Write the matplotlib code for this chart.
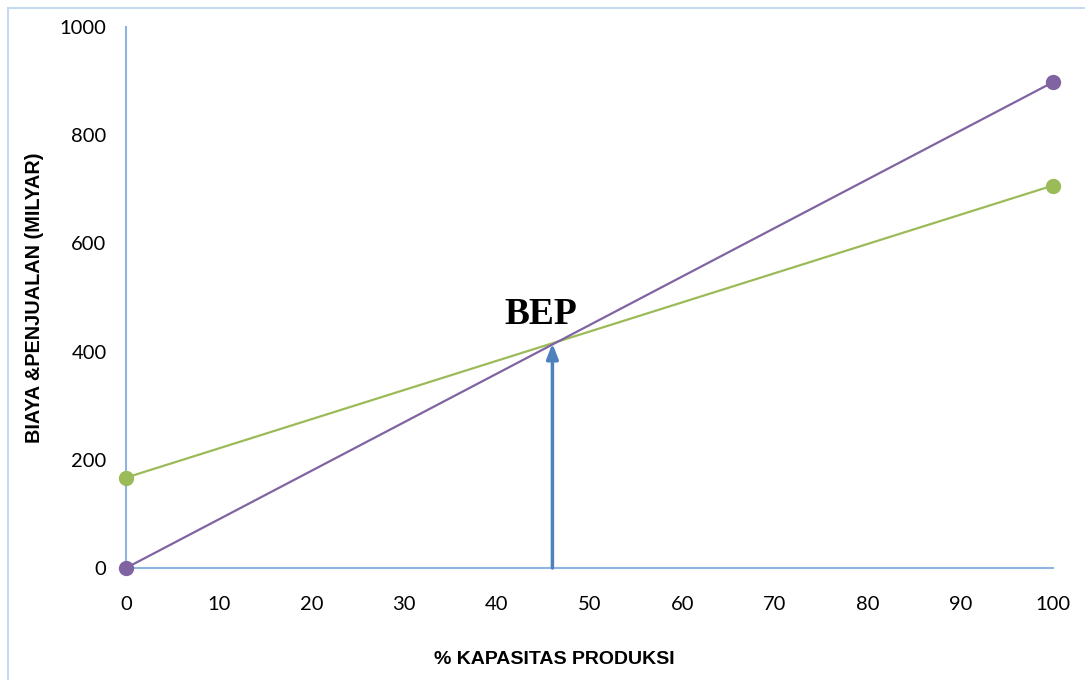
import matplotlib.pyplot as plt
from matplotlib.patches import Rectangle

# data
kapasitas = [0, 100]
penjualan = [0, 898]
biaya = [167, 707]
bep_x = 46
bep_y = 415

plt.rcParams['font.family'] = ['Lato', 'DejaVu Sans']

fig = plt.figure(figsize=(10.85, 6.8), dpi=100)
ax = fig.add_axes([126 / 1085, 112 / 680, 927 / 1085, 541 / 680])

# outer chart frame
fig.patches.append(Rectangle((8 / 1085, -0.01), 1.0, 1 - 8 / 680 + 0.01,
                             transform=fig.transFigure, fill=False,
                             edgecolor='#C6D9F1', linewidth=1.5))

ax.plot(kapasitas, biaya, color='#9BBB59', linewidth=1.6, marker='o',
        markersize=10, clip_on=False, zorder=3)
ax.plot(kapasitas, penjualan, color='#8064A2', linewidth=1.6, marker='o',
        markersize=10, clip_on=False, zorder=4)

# BEP arrow
ax.annotate('', xy=(bep_x, bep_y), xytext=(bep_x, 0),
            arrowprops=dict(arrowstyle='-|>,head_length=0.9,head_width=0.35',
                            color='#4F81BD', linewidth=2.5,
                            shrinkA=0, shrinkB=0), zorder=5)
ax.text(bep_x - 1.2, 437, 'BEP', family='Liberation Serif', fontweight='bold',
        fontsize=27, ha='center', va='bottom')

ax.set_xlim(0, 100)
ax.set_ylim(0, 1000)
ax.set_xticks(range(0, 101, 10))
ax.set_yticks(range(0, 1001, 200))
ax.tick_params(length=0, labelsize=14.5)
ax.tick_params(axis='x', pad=20)
ax.tick_params(axis='y', pad=14)
for s in ['top', 'right']:
    ax.spines[s].set_visible(False)
for s in ['left', 'bottom']:
    ax.spines[s].set_color('#8EB4E3')
    ax.spines[s].set_linewidth(1.5)

fig.text(35 / 1085, 1 - 298 / 680, 'BIAYA &PENJUALAN (MILYAR)',
         rotation=90, ha='center', va='center', fontweight='bold',
         fontsize=14.3, family='Liberation Sans')
fig.text(554 / 1085, 1 - 660 / 680, '% KAPASITAS PRODUKSI',
         ha='center', va='center', fontweight='bold',
         fontsize=14, family='Liberation Sans')

fig.savefig('out.png', dpi=100)
